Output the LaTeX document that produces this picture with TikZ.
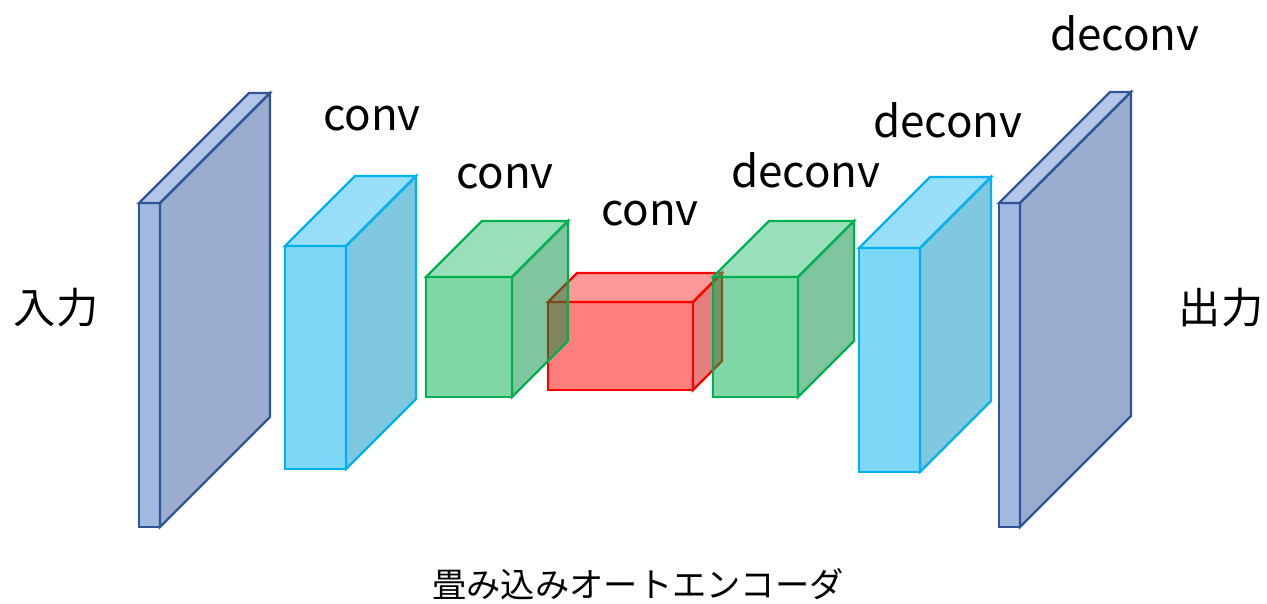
\documentclass[tikz,border=0pt]{standalone}
\usepackage{fontspec}
\setmainfont{Noto Sans CJK JP}
\definecolor{slab}{HTML}{4472C4}
\definecolor{slabline}{HTML}{2F5597}
\definecolor{cyanblk}{HTML}{00B0F0}
\definecolor{greenblk}{HTML}{00B050}
\definecolor{redblk}{HTML}{FF0000}
\begin{document}
\begin{tikzpicture}[x=0.02cm, y=-0.02cm, line width=1.35pt,
  lbl/.style={font=\fontsize{25}{30}\selectfont, inner sep=0pt},
  io/.style={font=\fontsize{24}{28}\selectfont, inner sep=0pt}]
  \useasboundingbox (0,0) rectangle (1267,604);
  %blocks: front face x1/y1/x2/y2, depth, fill, line
  \foreach \xa/\ya/\xb/\yb/\d/\fc/\lc in {
      139/203/160/527/110/slab/slabline,
      285/246/346/469/70/cyanblk/cyanblk,
      548/302/693/390/29/redblk/redblk,
      426/277/512/397/56/greenblk/greenblk,
      713/277/798/397/56/greenblk/greenblk,
      859/248/920/472/71/cyanblk/cyanblk,
      999/203/1020/527/111/slab/slabline}
  {
    \filldraw[fill=\fc, draw=\lc, fill opacity=0.5]
      (\xa,\ya) rectangle (\xb,\yb);
    \filldraw[fill=\fc!80!white, draw=\lc, fill opacity=0.5]
      (\xa,\ya) -- (\xa+\d,\ya-\d) -- (\xb+\d,\ya-\d) -- (\xb,\ya) -- cycle;
    \filldraw[fill=\fc!80!black, draw=\lc, fill opacity=0.5]
      (\xb,\ya) -- (\xb+\d,\ya-\d) -- (\xb+\d,\yb-\d) -- (\xb,\yb) -- cycle;
  }
  %labels
  \node[io] (in) at (56,308) {入力};
  \node[io] (out) at (1221,308) {出力};
  \node[lbl] (conv1) at (372,119) {conv};
  \node[lbl] (conv2) at (505,177) {conv};
  \node[lbl] (conv3) at (650,214) {conv};
  \node[lbl] (deconv1) at (806,170) {deconv};
  \node[lbl] (deconv2) at (948,120) {deconv};
  \node[lbl] (deconv3) at (1125,33) {deconv};
  \node[font=\fontsize{19.5}{24}\selectfont, inner sep=0pt] (title) at (638,584)
    {畳み込みオートエンコーダ};
\end{tikzpicture}
\end{document}
